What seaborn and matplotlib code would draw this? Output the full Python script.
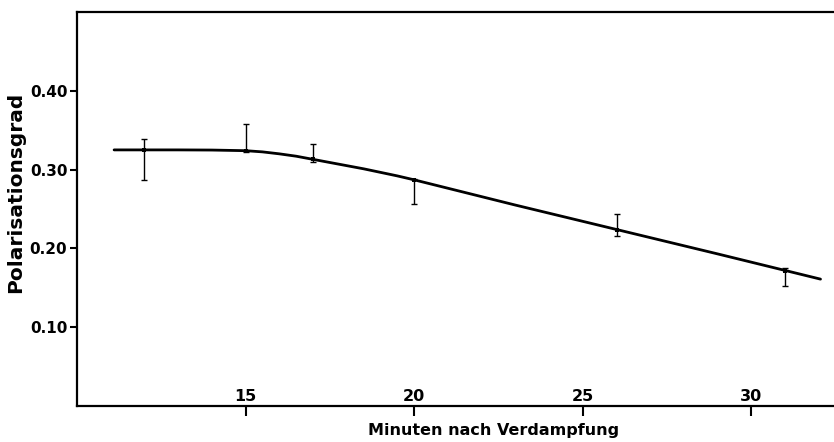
import numpy as np
import pandas as pd
import seaborn as sns
import matplotlib.pyplot as plt

# Messpunkte (Minuten nach Verdampfung, Polarisationsgrad, Fehlergrenzen)
minutes = [12, 15, 17, 20, 26, 31]
polarisation = [0.325, 0.323, 0.313, 0.287, 0.223, 0.171]
err_low = [0.287, 0.322, 0.310, 0.256, 0.216, 0.152]
err_high = [0.339, 0.358, 0.332, 0.288, 0.244, 0.175]

curve_x = [11.1, 13.0, 14.0, 15.0, 15.5, 16.0, 16.5, 17.0, 17.5, 18.0, 18.5,
           19.0, 19.5, 20.0, 23.0, 26.0, 29.0, 32.05]
curve_y = [0.325, 0.325, 0.3248, 0.324, 0.3225, 0.320, 0.317, 0.313, 0.309,
           0.305, 0.301, 0.2965, 0.292, 0.287, 0.255, 0.224, 0.193, 0.161]

x_ticks = [15, 20, 25, 30]
y_ticks = [0.10, 0.20, 0.30, 0.40]
y_tick_labels = ["0.10", "0.20", "0.30", "0.40"]

sns.set_style("white")
plt.rcParams["font.family"] = ["DejaVu Sans"]
plt.rcParams["font.weight"] = "bold"
plt.rcParams["text.color"] = "black"
plt.rcParams["axes.labelcolor"] = "black"
plt.rcParams["xtick.color"] = "black"
plt.rcParams["ytick.color"] = "black"

points = pd.DataFrame({"Minuten": minutes, "Polarisation": polarisation})
curve = pd.DataFrame({"Minuten": curve_x, "Polarisation": curve_y})

fig = plt.figure(figsize=(8.34, 4.42), dpi=100)
ax = fig.add_axes([77 / 834, 36 / 442, 757 / 834, 394 / 442])

sns.lineplot(data=curve, x="Minuten", y="Polarisation", color="black",
             linewidth=2.0, ax=ax)
yerr = np.array([np.array(polarisation) - np.array(err_low),
                 np.array(err_high) - np.array(polarisation)])
ax.errorbar(minutes, polarisation, yerr=yerr, fmt="none", ecolor="black",
            elinewidth=1.0, capsize=2, capthick=1.0)
sns.scatterplot(data=points, x="Minuten", y="Polarisation", color="black",
                s=10, marker="s", linewidth=0, ax=ax)

ax.set_xlim(10, 32.45)
ax.set_ylim(0, 0.5)
ax.set_xticks(x_ticks)
ax.set_xticklabels([str(t) for t in x_ticks], fontsize=11.5, fontweight="bold")
ax.set_yticks(y_ticks)
ax.set_yticklabels(y_tick_labels, fontsize=11, fontweight="bold")

ax.tick_params(axis="x", direction="out", length=7, width=1.5, pad=-19,
               colors="black")
ax.tick_params(axis="y", direction="out", length=5, width=1.5, pad=2,
               colors="black")
ax.tick_params(left=True, bottom=True)

for side in ["left", "top", "bottom"]:
    ax.spines[side].set_linewidth(1.6)
    ax.spines[side].set_color("black")
ax.spines["right"].set_visible(False)

ax.set_xlabel("Minuten nach Verdampfung", fontsize=11.5, fontweight="bold",
              color="black")
ax.set_ylabel("Polarisationsgrad", fontsize=14.5, fontweight="bold",
              color="black")
ax.xaxis.set_label_coords(0.55, -0.043)
ax.yaxis.set_label_coords(-0.068, 0.543)

fig.savefig("out.png", dpi=100)
plt.close(fig)
